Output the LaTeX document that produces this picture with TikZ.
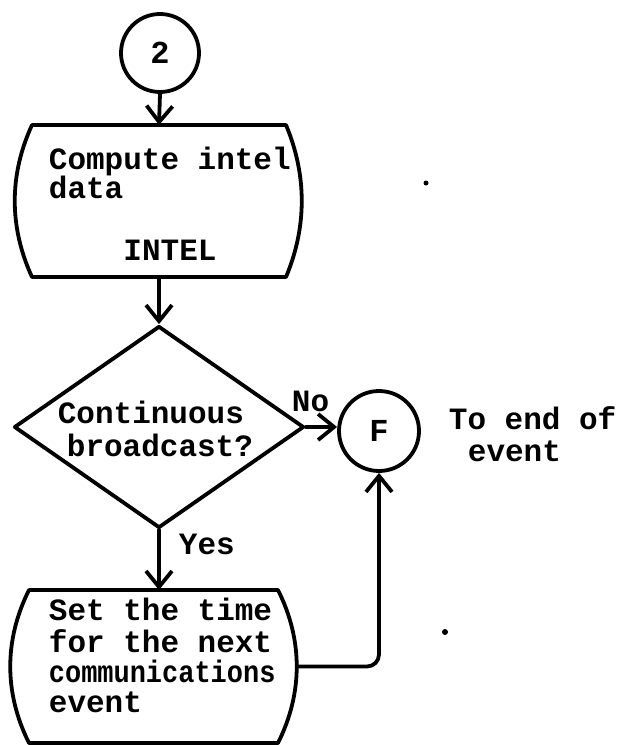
\documentclass[tikz,border=0pt]{standalone}
\usepackage{fontspec}
\newfontfamily\tw{Liberation Mono}
\usetikzlibrary{arrows.meta,shapes.geometric}

% Draws the outline of a process box whose left and right sides bow outward.
% #1 node name, #2 left bulge, #3 right bulge
\newcommand{\bulgebox}[3]{%
  \draw (#1.north west) -- (#1.north east)
    .. controls +(#3,-50) and +(#3,50) .. (#1.south east)
    -- (#1.south west)
    .. controls +(-#2,50) and +(-#2,-50) .. (#1.north west) -- cycle;}

\begin{document}
\begin{tikzpicture}[x=1pt,y=1pt,
  line width=3.8pt, line join=round, line cap=round,
  flow/.style={-{Straight Barb[length=16pt,width=26pt]}},
  txt/.style={inner sep=0pt, anchor=mid west,
    font=\tw\bfseries\fontsize{31}{31}\selectfont},
  conn/.style={circle, draw, minimum size=78pt, inner sep=0pt,
    font=\tw\bfseries\fontsize{32}{32}\selectfont},
  blank/.style={draw=none, inner sep=0pt, outer sep=0pt}]

\useasboundingbox (0,0) rectangle (620,-745);

% connectors in and out
\node[conn] (c2) at (160,-53) {2};
\node[conn, minimum size=80pt] (F) at (379,-431) {F};

% compute step
\node[blank, minimum width=254pt, minimum height=152pt] (b1) at (159,-201) {};
\bulgebox{b1}{23}{21}
\node[txt] (b1a) at (47,-167) {Compute intel};
\node[txt] (b1b) at (47,-196) {data};
\node[txt, anchor=mid] (b1c) at (170,-258) {INTEL};

% decision
\node[diamond, draw, minimum width=290pt, minimum height=202pt,
      inner sep=0pt] (dec) at (159,-427) {};
\node[txt] (d1) at (56,-421) {Continuous};
\node[txt] (d2) at (65,-454) {broadcast?};

% scheduling step
\node[blank, minimum width=249pt, minimum height=153pt] (b2) at (153.5,-666.5) {};
\bulgebox{b2}{25}{25}
\node[txt] (s1) at (47,-618) {Set the time};
\node[txt] (s2) at (47,-650) {for the next};
\node[txt] (s3) at (47,-680) {\scalebox{0.87}[1]{communications}};
\node[txt] (s4) at (47,-710) {event};

% side notes
\node[txt] (n1) at (447,-427) {To end of};
\node[txt] (n2) at (466,-459) {event};
\node[txt] (no) at (290,-409) {No};
\node[txt] (yes) at (177,-552) {Yes};

% flow lines
\draw[flow] (c2.south) -- (b1.north);
\draw[flow] (b1.south) -- (dec.north);
\draw[flow] (dec.east) -- (dec.east -| F.west);
\draw[flow] (dec.south) -- (dec.south |- b2.north);
\coordinate (b2r) at ([xshift=19pt]b2.east);
\draw[flow, rounded corners=12pt] (b2r) -| (F.south);

% specks
\fill (426,-183) circle (2.5pt);
\fill (445,-632) circle (3pt);
\end{tikzpicture}
\end{document}
